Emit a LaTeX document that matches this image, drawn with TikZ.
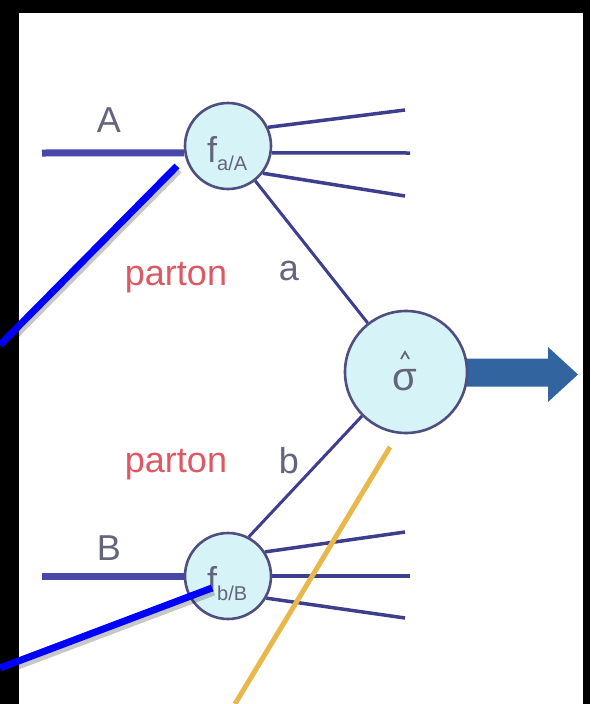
\documentclass[tikz,border=0pt]{standalone}
\usepackage{fontspec}
\setmainfont{Liberation Sans}
\definecolor{cfill}{RGB}{214,244,248}
\definecolor{cedge}{RGB}{78,78,128}
\definecolor{thickc}{RGB}{72,72,168}
\definecolor{thinc}{RGB}{62,62,142}
\definecolor{txtc}{RGB}{100,100,125}
\definecolor{redc}{RGB}{222,88,100}
\definecolor{arrowc}{RGB}{50,100,160}
\definecolor{goldc}{RGB}{232,184,74}
\begin{document}
\begin{tikzpicture}[x=1pt,y=-1pt,
  blob/.style={circle,draw=cedge,line width=2.6pt,fill=cfill,inner sep=0pt},
  beam/.style={thickc,line width=7pt},
  jet/.style={thinc,line width=3.5pt},
  prop/.style={thinc,line width=3pt},
  lbl/.style={text=txtc,font=\fontsize{36}{40}\selectfont,inner sep=0pt},
  parl/.style={text=redc,font=\fontsize{36}{40}\selectfont,inner sep=0pt},
  pointer/.style={blue,line width=7pt},
  shadowline/.style={black,opacity=0.22,line width=7pt},
  goldline/.style={goldc,line width=5pt},
  hatmark/.style={txtc,line width=1.8pt,line join=miter}]
\useasboundingbox (0,0) rectangle (590,704);
\fill[black] (0,0) rectangle (590,704);
\fill[white] (19,13) rectangle (583,704);
% outgoing arrow
\fill[arrowc] (462,358.5) -- (548,358.5) -- (548,347) -- (578,374.5) -- (548,402) -- (548,386.5) -- (462,386.5) -- cycle;
% blobs
\node[blob,minimum size=86pt] (fa) at (228,146) {};
\node[blob,minimum size=122pt] (sig) at (406,372) {};
\node[blob,minimum size=86pt] (fb) at (228,576) {};
% texts in blobs
\node[text=txtc,inner sep=0pt,anchor=base west] (fal) at (207,162)
  {\fontsize{36}{40}\selectfont f\fontsize{20}{24}\selectfont\raisebox{-8pt}{a/A}};
\node[text=txtc,inner sep=0pt,anchor=base west] (fbl) at (207,592)
  {\fontsize{36}{40}\selectfont f\fontsize{20}{24}\selectfont\raisebox{-8pt}{b/B}};
\node[text=txtc,inner sep=0pt,anchor=base] (sigl) at (405,390)
  {\fontsize{40}{44}\selectfont σ};
\draw[hatmark] ([shift={(-5,-13)}]sig.center) -- ([shift={(-1,-20)}]sig.center) -- ([shift={(3,-13)}]sig.center);
% beam labels
\node[lbl] (Al) at (109,120) {A};
\node[lbl] (Bl) at (109,548) {B};
\node[parl] (p1) at (176,278) {parton};
\node[parl] (p2) at (176,465) {parton};
\node[lbl] (al) at (289,271) {a};
\node[lbl] (bl) at (289,461) {b};
% coordinates
\coordinate (A0) at (42,153);
\coordinate (B0) at (42,576);
\coordinate (ja1) at (405,110);
\coordinate (ja2) at (410,153);
\coordinate (ja3) at (405,196);
\coordinate (jb1) at (405,532);
\coordinate (jb2) at (410,576);
\coordinate (jb3) at (405,618);
% beams
\draw[beam] (A0) -- (fa.189);
\draw[beam] (B0) -- (fb.west);
% jets
\draw[jet] (fa.25) -- (ja1);
\draw[jet] (fa.-9) -- (ja2);
\draw[jet] (fa.-38) -- (ja3);
\draw[jet] (fb.33) -- (jb1);
\draw[jet] (fb.0) -- (jb2);
\draw[jet] (fb.-30) -- (jb3);
% partons
\draw[prop] (fa.-52) -- (sig.128);
\draw[prop] (fb.62) -- (sig.225);
% pointers
\coordinate (u0) at (0,345);
\coordinate (u1) at (177,166);
\coordinate (d0) at (0,668);
\coordinate (d1) at (212,588);
\coordinate (g0) at (235,704);
\coordinate (g1) at (390,447);
\draw[shadowline] ([shift={(2,4)}]u0) -- ([shift={(2,4)}]u1);
\draw[shadowline] ([shift={(2,4)}]d0) -- ([shift={(2,4)}]d1);
\draw[pointer] (u0) -- (u1);
\draw[pointer] (d0) -- (d1);
\draw[goldline] (g0) -- (g1);
\end{tikzpicture}
\end{document}
